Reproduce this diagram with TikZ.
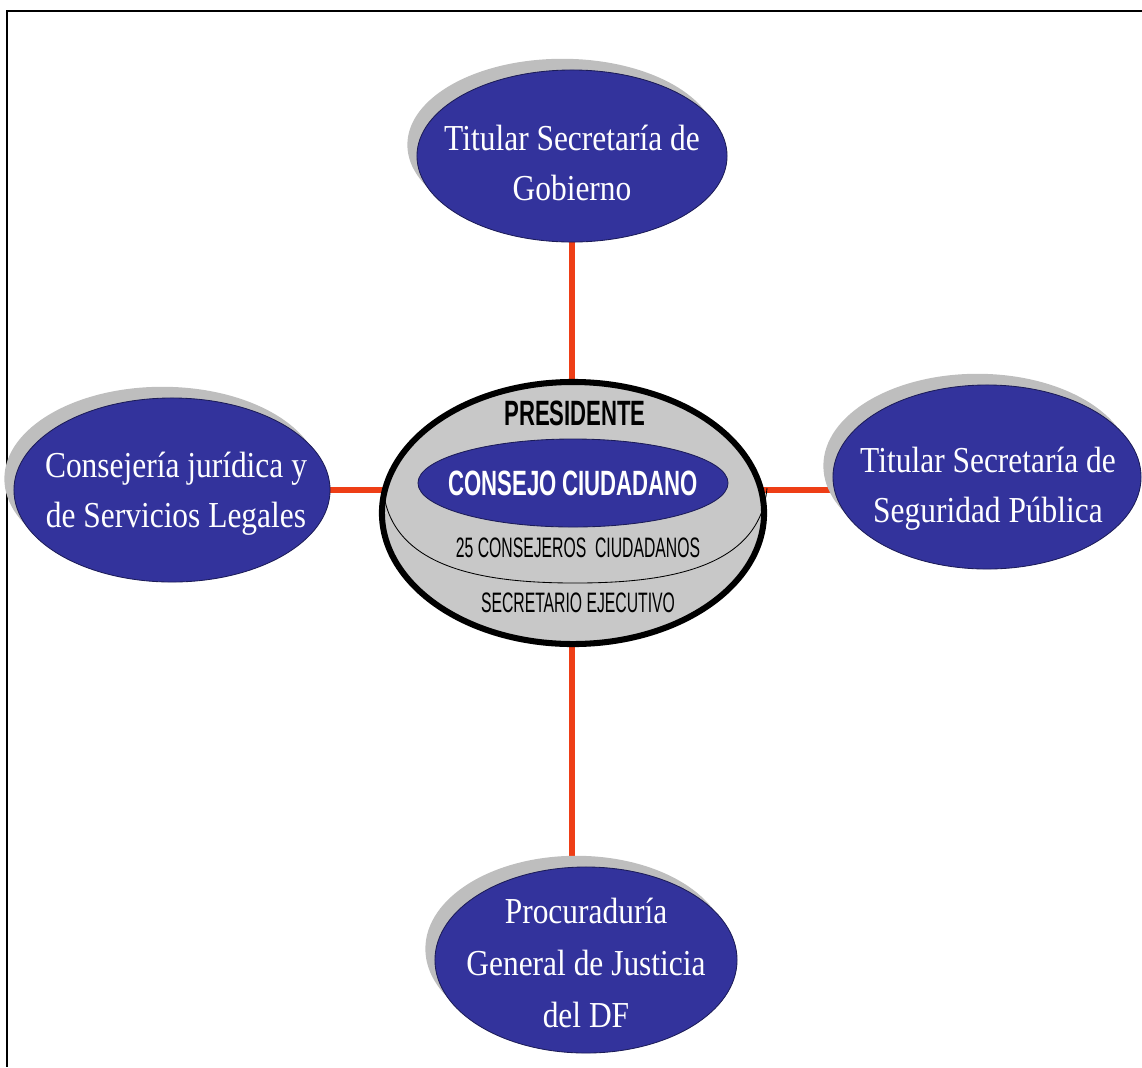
\documentclass[tikz,border=0pt]{standalone}
\usepackage{fontspec}
\usepackage{xcolor}
\usepackage{tikz}
\usetikzlibrary{shapes.geometric,shadows,backgrounds}
\newfontfamily\orgserif[FakeStretch=0.86]{Liberation Serif}
\newfontfamily\orgsans[FakeStretch=0.63]{Liberation Sans}
\newfontfamily\orgnarrow[FakeStretch=0.56]{Liberation Sans}
\definecolor{orgblue}{RGB}{51,51,156}
\definecolor{orgblueline}{RGB}{28,28,88}
\definecolor{orggray}{RGB}{200,200,200}
\definecolor{orgshadow}{RGB}{190,190,190}
\definecolor{orgred}{RGB}{238,62,22}
\tikzset{
  unit/.style={
    ellipse, draw=orgblueline, line width=0.6pt, fill=orgblue, inner sep=0pt,
    drop shadow={shadow xshift=-0.24cm, shadow yshift=0.28cm, opacity=1, fill=orgshadow}},
  unittext/.style={text=white, align=center, inner sep=0pt,
    font=\orgserif\fontsize{26}{35.5}\selectfont},
  council/.style={ellipse, draw=black, line width=4.3pt, fill=orggray, inner sep=0pt},
  councilcore/.style={ellipse, draw=orgblueline, line width=0.6pt, fill=orgblue, inner sep=0pt},
  headlbl/.style={inner sep=0pt, font=\orgsans\bfseries\fontsize{25}{29}\selectfont},
  memberlbl/.style={inner sep=0pt, font=\orgnarrow\fontsize{20}{24}\selectfont},
  % red links
  link/.style={orgred, line width=4.3pt},
}

\begin{document}
\begin{tikzpicture}[x=0.025cm, y=-0.025cm]
\useasboundingbox (0,0) rectangle (1142,1067);

% ---------- frame ----------
\draw[line width=2pt] (1142,11) -| (7,1067);

% ---------- central council ----------
\node[council, minimum width=9.55cm, minimum height=6.55cm] (consejo) at (573,513) {};
\draw[line width=0.6pt] (383,488) to[out=-85,in=180] (575,583) to[out=0,in=-95] (767,488);
\node[councilcore, minimum width=7.75cm, minimum height=2.2cm] (core) at (573,483) {};
\node[headlbl] (pres) at (575,413) {PRESIDENTE};
\node[headlbl, text=white] (cc) at (core) {CONSEJO\,CIUDADANO};
\node[memberlbl] (miembros) at (578,548) {25 CONSEJEROS\ \ CIUDADANOS};
\node[memberlbl] (secej) at (578,603) {SECRETARIO EJECUTIVO};

% ---------- units ----------
\node[unit, minimum width=7.75cm, minimum height=4.3cm] (gob) at (572,156) {};
\node[unit, minimum width=7.9cm, minimum height=4.6cm] (jur) at (172,490) {};
\node[unit, minimum width=7.7cm, minimum height=4.6cm] (seg) at (987,477) {};
\node[unit, minimum width=7.55cm, minimum height=4.65cm] (proc) at (586,960) {};

\node[unittext] (gobtxt) at (572,163) {Titular Secretaría de\\Gobierno};
\node[unittext] (jurtxt) at (176,494) {Consejería jurídica y\\de Servicios Legales};
\node[unittext] (segtxt) at (988,489) {Titular Secretaría de\\Seguridad Pública};
\node[unittext, font=\orgserif\fontsize{26}{37}\selectfont] (proctxt) at (586,963)
  {Procuraduría\\General de Justicia\\del DF};

% ---------- links ----------
\begin{scope}[on background layer]
  \draw[link] (gob) -- (gob |- consejo);
  \draw[link] (gob |- consejo) -- (gob |- proc);
  \foreach \u in {jur, seg}{
    \draw[link] (\u |- jur) -- (consejo |- jur);}
\end{scope}

\end{tikzpicture}
\end{document}
